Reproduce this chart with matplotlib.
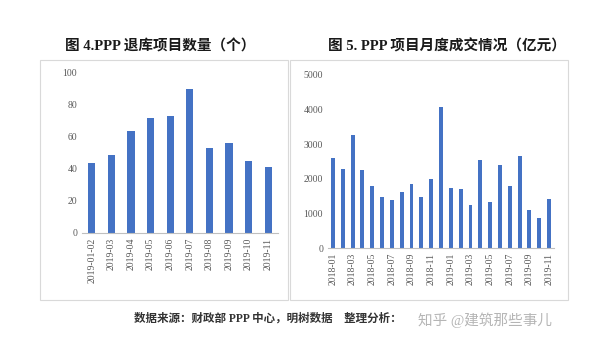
import matplotlib.pyplot as plt
import matplotlib.patches as mpatches

plt.rcParams['font.family'] = ['Liberation Serif', 'Noto Sans CJK SC']

# left chart: PPP projects removed from the library
exit_months = ['2019-01-02', '2019-03', '2019-04', '2019-05', '2019-06',
               '2019-07', '2019-08', '2019-09', '2019-10', '2019-11']
exit_counts = [44, 49, 64, 72, 73, 90, 53, 56, 45, 41]

# right chart: monthly deal value (100 million yuan)
deal_months = ['2018-01', '2018-02', '2018-03', '2018-04', '2018-05', '2018-06',
               '2018-07', '2018-08', '2018-09', '2018-10', '2018-11', '2018-12',
               '2019-01', '2019-02', '2019-03', '2019-04', '2019-05', '2019-06',
               '2019-07', '2019-08', '2019-09', '2019-10', '2019-11']
deal_values = [2600, 2280, 3260, 2240, 1800, 1480, 1380, 1610, 1860, 1460,
               1990, 4080, 1740, 1710, 1230, 2530, 1320, 2400, 1780, 2660,
               1110, 880, 1410]

bar_color = '#4472C4'
tick_color = '#595959'

fig = plt.figure(figsize=(5.96, 3.46), dpi=100)

# panel frames
for x0, x1 in [(40, 288), (290, 568)]:
    fig.patches.append(mpatches.Rectangle(
        (x0 / 596, 1 - 300 / 346), (x1 - x0) / 596, 240 / 346,
        transform=fig.transFigure, fill=False, edgecolor='#d9d9d9', lw=0.8))


def style(ax):
    for s in ['top', 'right', 'left']:
        ax.spines[s].set_visible(False)
    ax.spines['bottom'].set_color('#bfbfbf')
    ax.tick_params(axis='y', length=0, labelsize=7, colors=tick_color)
    ax.tick_params(axis='x', length=0, labelsize=7, colors=tick_color,
                   rotation=90)


ax1 = fig.add_axes([82 / 596, 1 - 233 / 346, 196 / 596, 160 / 346])
ax1.bar(range(len(exit_counts)), exit_counts, width=0.36, color=bar_color)
ax1.set_xlim(-0.5, len(exit_counts) - 0.5)
ax1.set_ylim(0, 100)
ax1.set_yticks(range(0, 101, 20))
ax1.set_xticks(range(len(exit_months)))
ax1.set_xticklabels(exit_months)
style(ax1)

ax2 = fig.add_axes([328 / 596, 1 - 248 / 346, 226 / 596, 173 / 346])
ax2.bar(range(len(deal_values)), deal_values, width=0.4, color=bar_color)
ax2.set_xlim(-0.5, len(deal_values) - 0.5)
ax2.set_ylim(0, 5000)
ax2.set_yticks(range(0, 5001, 1000))
ax2.set_xticks(range(0, len(deal_months), 2))
ax2.set_xticklabels(deal_months[::2])
style(ax2)

fig.text(160 / 596, 1 - 46 / 346, '图 4.PPP 退库项目数量（个）', ha='center',
         va='center', fontsize=10.5, fontweight='bold', color='#1a1a1a')
fig.text(447 / 596, 1 - 46 / 346, '图 5. PPP 项目月度成交情况（亿元）', ha='center',
         va='center', fontsize=10.5, fontweight='bold', color='#1a1a1a')

fig.text(134 / 596, 1 - 319 / 346,
         '数据来源：财政部 PPP 中心，明树数据    整理分析：',
         ha='left', va='center', fontsize=8.3, fontweight='bold', color='#333333')
fig.text(418 / 596, 1 - 320 / 346, '知乎 @建筑那些事儿', ha='left', va='center',
         fontsize=10.5, color='#b5b5b5')

fig.savefig('out.png', dpi=100, facecolor='white')
